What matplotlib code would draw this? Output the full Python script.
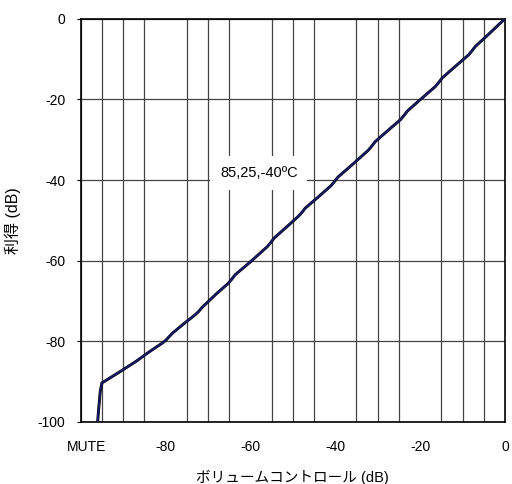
import numpy as np
import matplotlib
matplotlib.use("Agg")
import matplotlib.pyplot as plt

plt.rcParams['font.family'] = ['Liberation Sans', 'Noto Sans CJK JP', 'DejaVu Sans']
plt.rcParams['axes.unicode_minus'] = False

# ボリュームコントロール (dB) vs 利得 (dB), 85/25/-40 degC curves overlap
vol_db = [-96.0, -95.9, -95.7, -95.4, -95.0, -94.2, -91.0, -87.0, -83.7, -81.0,
          -79.9, -79.2, -78.4, -76.0, -73.0, -72.2, -71.4, -68.0, -65.2, -64.4,
          -63.6, -60.0, -56.0, -55.2, -54.4, -51.0, -48.7, -47.9, -47.1, -44.0,
          -41.0, -40.2, -39.4, -36.0, -32.2, -31.4, -30.6, -28.0, -24.6, -23.8,
          -23.0, -20.0, -16.4, -15.6, -14.8, -12.0, -8.6, -7.8, -7.0, -4.0, 0.0]
gain_db = [-100.0, -98.5, -96.0, -92.5, -90.3, -89.8, -87.7, -85.0, -82.5, -80.6,
           -79.7, -78.9, -78.0, -75.9, -73.4, -72.6, -71.6, -68.2, -65.6, -64.6,
           -63.5, -60.3, -56.5, -55.5, -54.4, -51.2, -49.0, -48.1, -47.0, -44.2,
           -41.4, -40.4, -39.3, -36.2, -32.6, -31.6, -30.5, -28.1, -25.0, -24.0,
           -22.9, -20.1, -16.8, -15.8, -14.7, -12.1, -9.0, -8.0, -6.9, -4.0, 0.0]

x_ticks = [-98.5, -80, -60, -40, -20, 0]
x_labels = ['MUTE', '-80', '-60', '-40', '-20', '0']
y_ticks = [-100, -80, -60, -40, -20, 0]

fig = plt.figure(figsize=(5.12, 4.84), dpi=100)
ax = fig.add_axes([0.1576, 0.1281, 0.8287, 0.8333])

ax.set_xlim(-100, 0)
ax.set_ylim(-100, 0)

ax.set_xticks(np.arange(-100, 1, 5), minor=True)
ax.set_xticks(x_ticks)
ax.set_xticklabels(x_labels)
ax.set_yticks(y_ticks)

ax.grid(which='minor', axis='x', color='#444444', linewidth=0.9)
ax.grid(which='major', axis='y', color='#444444', linewidth=0.9)
ax.tick_params(axis='x', which='both', length=0, pad=13, labelsize=10)
ax.tick_params(axis='y', length=3, pad=8, labelsize=10)

for sp in ax.spines.values():
    sp.set_linewidth(1.2)
    sp.set_color('black')

# three temperature curves lie on top of each other
ax.plot(vol_db, gain_db, color='black', linewidth=2.1, zorder=3)
ax.plot(vol_db, gain_db, color='#15157a', linewidth=1.4, zorder=4)
ax.plot(vol_db, gain_db, color='#222244', linewidth=0.6, linestyle='--', zorder=5)

ax.text(-58.0, -38.2, '85,25,-40ºC', fontsize=10.5, ha='center', va='center',
        bbox=dict(facecolor='white', edgecolor='none', pad=7), zorder=6)

ax.set_xlabel('ボリュームコントロール (dB)', fontsize=10.5)
ax.set_ylabel('利得 (dB)', fontsize=11.5)
ax.xaxis.set_label_coords(0.5, -0.119)
ax.yaxis.set_label_coords(-0.14, 0.5)

fig.savefig('out.png', dpi=100)
